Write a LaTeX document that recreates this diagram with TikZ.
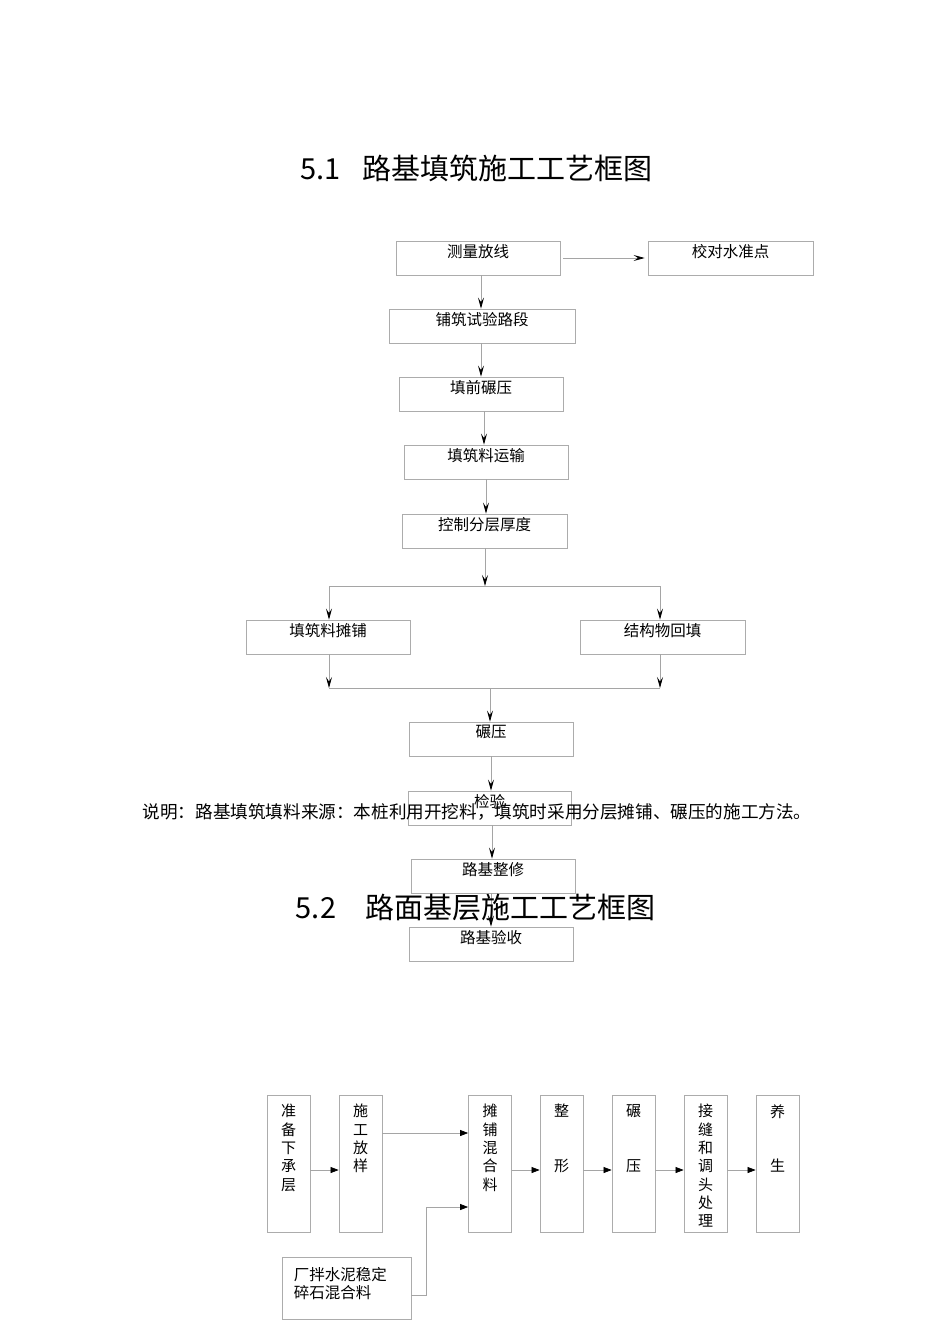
\documentclass[tikz,border=0pt]{standalone}
\usepackage{fontspec}
\setmainfont{Noto Sans CJK SC}
\usetikzlibrary{arrows.meta,calc}
\definecolor{boxgray}{RGB}{172,172,172}
\definecolor{linegray}{RGB}{165,165,165}
\begin{document}
\begin{tikzpicture}[x=1pt,y=-1pt,
  box/.style={draw=boxgray, line width=0.8pt, rectangle, minimum height=34pt, inner sep=0pt},
  vbox/.style={draw=boxgray, line width=0.8pt, rectangle, minimum width=43pt, minimum height=137pt, inner sep=0pt},
  lab/.style={anchor=north, inner sep=0pt, yshift=-3.5pt, font=\fontsize{15.5}{18}\selectfont},
  vlab/.style={anchor=north, inner sep=0pt, yshift=-9.5pt, align=center, font=\fontsize{15}{18.3}\selectfont},
  conn/.style={draw=linegray, line width=0.7pt},
  ta/.style={conn, -{Stealth[length=11pt,width=6pt,inset=4.5pt,black]}},
  ba/.style={conn, -{Triangle[length=8pt,width=6pt,black]}}
]
\useasboundingbox (0,0) rectangle (950,1344);

% titles and note
\node[font=\fontsize{29}{34}\selectfont, inner sep=0pt] (t1) at (476,168) {5.1\hspace{0.75em}路基填筑施工工艺框图};

% top chart
\node[box, minimum width=164pt, label={[lab]north:测量放线}] (m1) at (478,258) {};
\node[box, minimum width=165pt, label={[lab]north:校对水准点}] (m2) at (730.5,258) {};
\node[box, minimum width=186pt, label={[lab]north:铺筑试验路段}] (m3) at (482,326) {};
\node[box, minimum width=164pt, label={[lab]north:填前碾压}] (m4) at (481,394) {};
\node[box, minimum width=164pt, label={[lab]north:填筑料运输}] (m5) at (486,462) {};
\node[box, minimum width=165pt, label={[lab]north:控制分层厚度}] (m6) at (484.5,531) {};
\node[box, minimum width=164pt, label={[lab]north:填筑料摊铺}] (m7) at (328,637) {};
\node[box, minimum width=165pt, label={[lab]north:结构物回填}] (m8) at (662.5,637) {};
\node[box, minimum width=164pt, label={[lab]north:碾压}] (m9) at (491,739) {};
\node[box, minimum width=163pt, label={[lab]north:检验}] (m10) at (489.5,808) {};
\node[box, minimum width=164pt, label={[lab]north:路基整修}] (m11) at (493,876) {};
\node[box, minimum width=164pt, label={[lab]north:路基验收}] (m12) at (491,944) {};

\coordinate (split) at (485,586);
\coordinate (splitL) at (329,586);
\coordinate (splitR) at (660,586);
\coordinate (joinL) at (329,688);
\coordinate (joinR) at (660,688);
\coordinate (join) at (490,688);

\draw[ta] ($(m1.east)+(3,0)$) -- ($(m2.west)+(-3,0)$);
\draw[ta] (m1.south -| 481,0) -- (m3.north -| 481,0);
\draw[ta] (m3.south -| 481,0) -- (m4.north -| 481,0);
\draw[ta] (m4.south -| 484,0) -- (m5.north -| 484,0);
\draw[ta] (m5.south -| 486,0) -- (m6.north -| 486,0);
\draw[ta] (m6.south -| split) -- (split);
\draw[conn] (splitL) -- (splitR);
\draw[ta] (splitL) -- (splitL |- m7.north);
\draw[ta] (splitR) -- (splitR |- m8.north);
\draw[ta] (m7.south -| joinL) -- (joinL);
\draw[ta] (m8.south -| joinR) -- (joinR);
\draw[conn] (joinL) -- (joinR);
\draw[ta] (join) -- (join |- m9.north);
\draw[ta] (m9.south -| 491,0) -- (m10.north -| 491,0);
\draw[ta] (m10.south -| 492,0) -- (m11.north -| 492,0);
\draw[ta] (m11.south -| 491,0) -- (m12.north -| 491,0);

\node[font=\fontsize{17.6}{20}\selectfont, inner sep=0pt] (note) at (477,812) {说明：路基填筑填料来源：本桩利用开挖料，填筑时采用分层摊铺、碾压的施工方法。};
\node[font=\fontsize{29}{34}\selectfont, inner sep=0pt] (t2) at (475.5,908) {5.2\hspace{1em}路面基层施工工艺框图};

% bottom chart
\node[vbox, label={[vlab]north:{准\\备\\下\\承\\层}}] (b1) at (288.5,1163.5) {};
\node[vbox, label={[vlab]north:{施\\工\\放\\样}}] (b2) at (360.5,1163.5) {};
\node[vbox, label={[vlab]north:{摊\\铺\\混\\合\\料}}] (b3) at (490,1163.5) {};
\node[vbox, label={[vlab]north:{整\\[36.6pt]形}}] (b4) at (561.5,1163.5) {};
\node[vbox, label={[vlab]north:{碾\\[36.6pt]压}}] (b5) at (633.5,1163.5) {};
\node[vbox, label={[vlab]north:{接\\缝\\和\\调\\头\\处\\理}}] (b6) at (705.5,1163.5) {};
\node[vbox, label={[vlab]north:{养\\[36.6pt]生}}] (b7) at (777.5,1163.5) {};
\node[draw=boxgray, line width=0.8pt, rectangle, minimum width=129pt, minimum height=62pt, inner sep=0pt,
  label={[anchor=north west, inner sep=0pt, xshift=12pt, yshift=-10.5pt, align=left, font=\fontsize{15.5}{18}\selectfont]north west:{厂拌水泥稳定\\碎石混合料}}] (b8) at (346.5,1288) {};

\coordinate (row) at (0,1170);
\coordinate (row2) at (0,1133);
\coordinate (row3) at (0,1295);
\coordinate (row4) at (0,1207);

\draw[ba] (b1.east |- row) -- (b2.west |- row);
\draw[ba] (b2.east |- row2) -- (b3.west |- row2);
\draw[ba] (b8.east |- row3) -- ++(15,0) |- (b3.west |- row4);
\draw[ba] (b3.east |- row) -- (b4.west |- row);
\draw[ba] (b4.east |- row) -- (b5.west |- row);
\draw[ba] (b5.east |- row) -- (b6.west |- row);
\draw[ba] (b6.east |- row) -- (b7.west |- row);
\end{tikzpicture}
\end{document}
